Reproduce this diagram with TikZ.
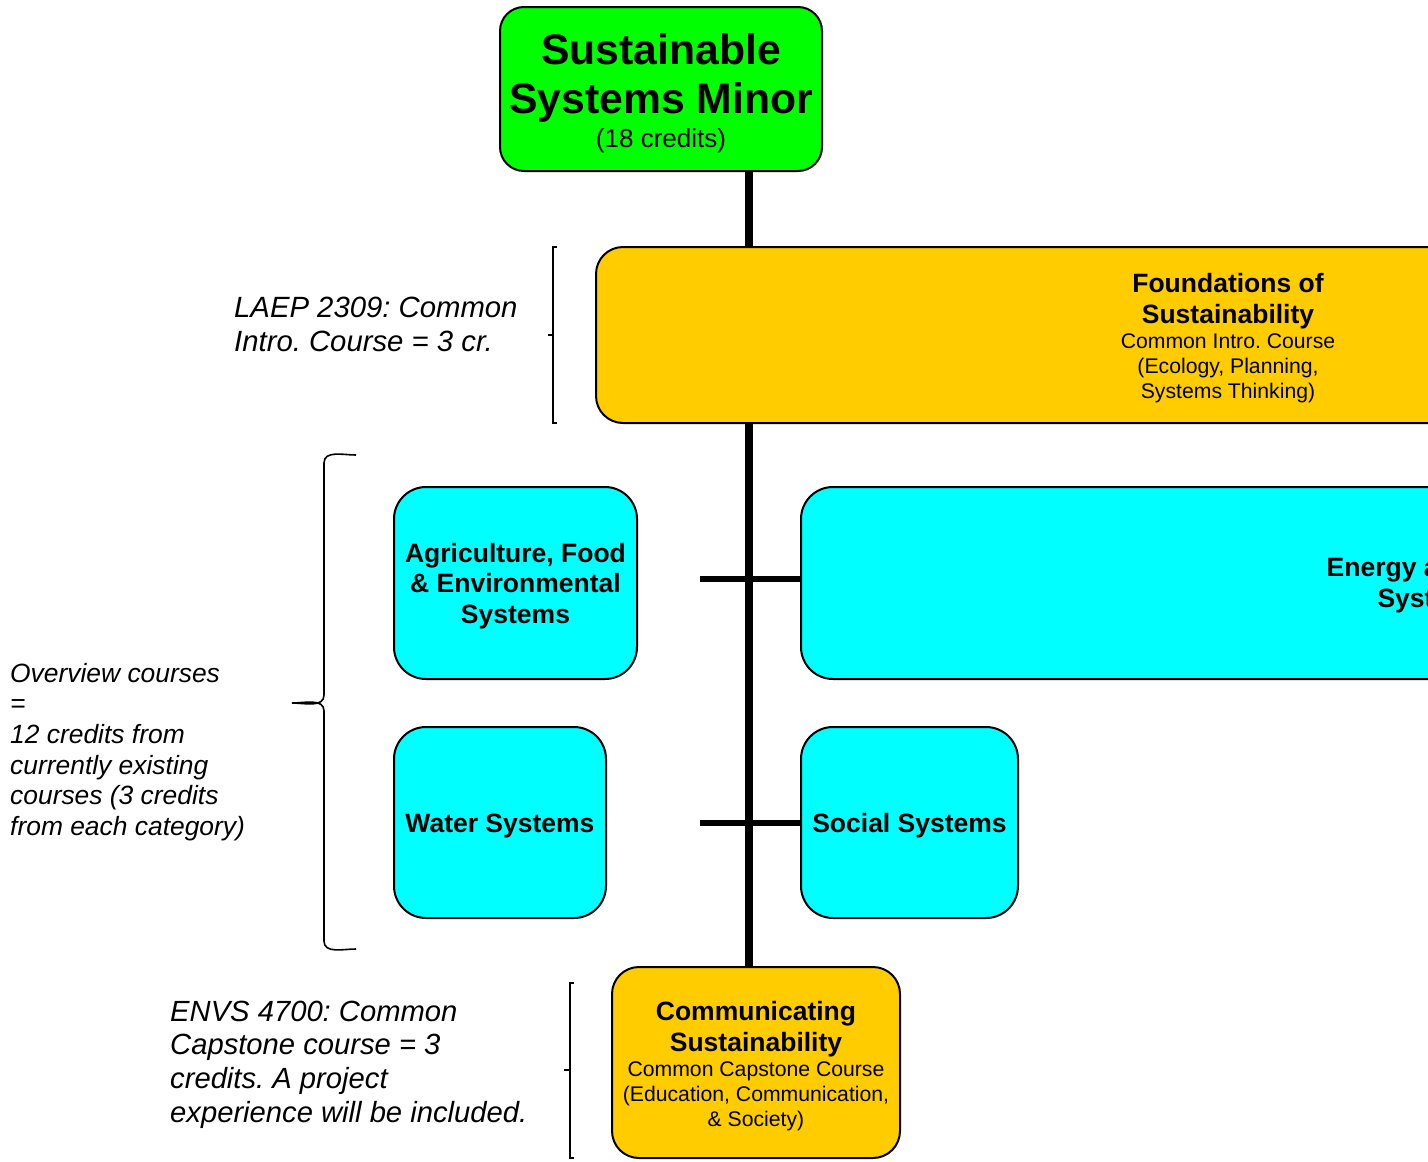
\documentclass[tikz,border=0pt]{standalone}
\usepackage{fontspec}
\setmainfont{Liberation Sans}
\pgfdeclarelayer{bgfill}
\pgfdeclarelayer{trunk}
\pgfsetlayers{bgfill,trunk,main}
\definecolor{sgreen}{HTML}{00FF00}
\definecolor{syellow}{HTML}{FFCC00}
\definecolor{scyan}{HTML}{00FFFF}
\newcommand{\ftitle}{\fontsize{42.7}{49}\selectfont\bfseries}
\newcommand{\fhead}{\fontsize{26.5}{30.5}\selectfont\bfseries}
\newcommand{\fsub}{\fontsize{21.2}{25}\selectfont\mdseries}
\newcommand{\fcred}{\fontsize{26}{32}\selectfont\mdseries}
\tikzset{
  box/.style={draw=black, line width=2pt, rounded corners=27pt, inner sep=0pt},
  boxtext/.style={align=center, inner sep=0pt, font=\fhead},
  trunkline/.style={line width=7.5pt},
  branch/.style={line width=6.5pt},
  brack/.style={line width=1.6pt},
  note/.style={align=left, inner sep=0pt, anchor=west},
}
\begin{document}
\frenchspacing
\begin{tikzpicture}[x=1pt,y=-1pt]
\useasboundingbox (0,0) rectangle (1428,1162);
\begin{pgfonlayer}{bgfill}
  \fill[white] (0,0) rectangle (1428,1162);
\end{pgfonlayer}
\clip (0,0) rectangle (1428,1162);

% boxes
\node[box, fill=sgreen, rounded corners=24pt, minimum width=322pt, minimum height=164pt] (minor) at (661,89) {};
\node[box, fill=syellow, minimum width=1264pt, minimum height=176pt] (found) at (1228,335) {};
\node[box, fill=scyan, rounded corners=32pt, minimum width=243pt, minimum height=192pt] (agri) at (515.5,583) {};
\node[box, fill=scyan, rounded corners=32pt, minimum width=1262pt, minimum height=192pt] (energy) at (1432,583) {};
\node[box, fill=scyan, rounded corners=32pt, minimum width=212pt, minimum height=191pt] (water) at (500,822.5) {};
\node[box, fill=scyan, rounded corners=32pt, minimum width=217pt, minimum height=191pt] (social) at (909.5,822.5) {};
\node[box, fill=syellow, minimum width=288pt, minimum height=191pt] (comm) at (756,1062.5) {};

% box texts
\node[boxtext, font=\ftitle] (minortxt) at ([yshift=-4pt]minor.center)
  {\ftitle Sustainable\\\ftitle Systems Minor\\[-15pt]\fcred (18 credits)};
\node[boxtext] (foundtxt) at ([yshift=-3pt]found.center)
  {\fhead Foundations of\\\fhead Sustainability\\[-5.5pt]\fsub Common Intro. Course\\[-5.5pt]\fsub (Ecology, Planning,\\[-5.5pt]\fsub Systems Thinking)};
\node[boxtext] (agritxt) at ([yshift=-3pt]agri.center)
  {\fhead Agriculture, Food\\\fhead \& Environmental\\\fhead Systems};
\node[boxtext] (energytxt) at ([yshift=-2pt]energy.center)
  {\fhead Energy and Built\\\fhead Systems};
\node[boxtext] (watertxt) at ([yshift=-3pt]water.center) {\fhead Water Systems};
\node[boxtext] (socialtxt) at ([yshift=-3pt]social.center) {\fhead Social Systems};
\node[boxtext] (commtxt) at ([yshift=-3.5pt]comm.center)
  {\fhead Communicating\\\fhead Sustainability\\[-5.5pt]\fsub Common Capstone Course\\[-5.5pt]\fsub (Education, Communication,\\[-5.5pt]\fsub \& Society)};

% trunk
\coordinate (tx) at (749,0);
\begin{pgfonlayer}{trunk}
  \draw[trunkline] (minor.south -| tx) -- (comm.north -| tx);
\end{pgfonlayer}
\coordinate (b1) at (700,579);
\coordinate (b2) at (700,823);
\draw[branch] (b1) -- (b1 -| energy.west);
\draw[branch] (b2) -- (b2 -| social.west);

% notes
\node[note, font=\fontsize{29.3}{34}\selectfont\itshape] (laep) at (234,324)
  {LAEP 2309: Common\\Intro. Course = 3 cr.};
\node[note, font=\fontsize{26.4}{30.6}\selectfont\itshape] (over) at (10,752)
  {Overview courses\\=\\12 credits from\\currently existing\\courses (3 credits\\from each category)};
\node[note, font=\fontsize{29.2}{33.7}\selectfont\itshape] (envs) at (170,1064.5)
  {ENVS 4700: Common\\Capstone course = 3\\credits. A project\\experience will be included.};

% brackets
\draw[brack] (557,247) -- (553,247) -- (553,423) -- (557,423);
\draw[brack] (553,335) -- (548,335);
\draw[brack] (356,455) to[out=180,in=90] (324,463) -- (324,695) to[out=-90,in=0] (292,703)
  to[out=0,in=90] (324,711) -- (324,941) to[out=-90,in=180] (356,949);
\draw[brack] (574,983) -- (570,983) -- (570,1158) -- (574,1158);
\draw[brack] (570,1070) -- (564,1070);
\end{tikzpicture}
\end{document}
